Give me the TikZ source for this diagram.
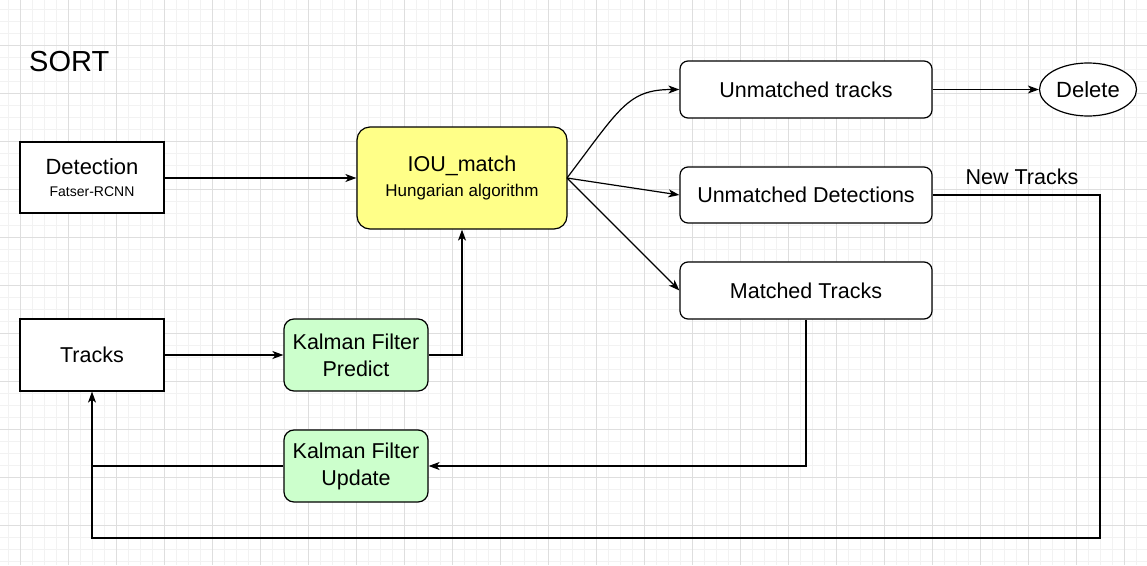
\documentclass[tikz,border=0pt]{standalone}
\usepackage{fontspec}
\setmainfont{Liberation Sans}
\usetikzlibrary{arrows.meta,shapes.geometric}
\definecolor{gridminor}{HTML}{F2F2F2}
\definecolor{gridmajor}{HTML}{DEDEDE}
\definecolor{iouyellow}{HTML}{FFFF88}
\definecolor{kfgreen}{HTML}{CCFFCC}
\tikzset{
  box/.style={draw=black, line width=1.2pt, fill=white, minimum width=144pt, minimum height=71pt, inner sep=0pt, align=center, font=\fontsize{21.5}{27}\selectfont},
  rbox/.style={box, rounded corners=8pt, minimum width=252pt, minimum height=57pt},
  kfbox/.style={box, fill=kfgreen, rounded corners=10pt, minimum height=72pt},
  ioubox/.style={box, fill=iouyellow, rounded corners=13pt, minimum width=210pt, minimum height=102pt},
  conn/.style={line width=1.2pt, -{Stealth[length=11pt,width=8pt,inset=3pt]}},
  line/.style={line width=1.2pt},
  lbl/.style={inner sep=0pt, font=\fontsize{21.5}{24}\selectfont}
}
\begin{document}
\begin{tikzpicture}[x=1pt,y=-1pt]
\useasboundingbox (0,0) rectangle (1147,565);
\fill[white] (0,0) rectangle (1147,565);
% grid
\foreach \x in {8,20,...,1147} \draw[gridminor, line width=0.8pt] (\x,0) -- (\x,565);
\foreach \y in {9,21,...,565} \draw[gridminor, line width=0.8pt] (0,\y) -- (1147,\y);
\foreach \x in {20,68,...,1147} \draw[gridmajor, line width=0.9pt] (\x,0) -- (\x,565);
\foreach \y in {45,93,...,565} \draw[gridmajor, line width=0.9pt] (0,\y) -- (1147,\y);

% title
\node[anchor=west, inner sep=0pt, font=\fontsize{29}{32}\selectfont] (title) at (29,62) {SORT};

% nodes
\node[box] (det) at (92,177.5) {{\fontsize{22}{26}\selectfont Detection}\\[-5pt]{\fontsize{14}{16}\selectfont Fatser-RCNN}};
\node[box, minimum height=72pt] (tracks) at (92,355) {Tracks};
\node[ioubox] (iou) at (462,178) {IOU\_match\\[-2pt]{\fontsize{17}{20}\selectfont Hungarian algorithm}};
\node[kfbox] (kfp) at (356,355) {Kalman Filter\\Predict};
\node[kfbox] (kfu) at (356,466) {Kalman Filter\\Update};
\node[rbox] (ut) at (806,89.5) {Unmatched tracks};
\node[rbox, minimum height=56pt] (ud) at (806,195) {Unmatched Detections};
\node[rbox] (mt) at (806,290.5) {Matched Tracks};
\node[draw=black, line width=1.2pt, fill=white, ellipse, minimum width=97pt, minimum height=53pt, inner sep=0pt, font=\fontsize{22}{24}\selectfont] (del) at (1088,89.5) {Delete};

\coordinate (iouR) at (567,178);
\coordinate (kink) at (462,355);
\coordinate (ne) at (1100,195);
\coordinate (se) at (1100,538);
\coordinate (sw) at (92,538);
\coordinate (mtdown) at (806,466);

% connectors
\draw[conn] (det.east |- 0,178) -- (iou.west |- 0,178);
\draw[conn] (tracks.east) -- (kfp.west);
\draw[conn] (kfp.east) -- (kink) -- (iou.south);
\draw[conn] (iouR) .. controls (620,108) and (628,89.5) .. (ut.west);
\draw[conn] (iouR) -- (ud.west);
\draw[conn] (iouR) -- (mt.west);
\draw[conn] (ut.east) -- (del.west);
\draw[conn] (ud.east) -- (ne) -- (se) -- (sw) -- (tracks.south);
\draw[conn] (mt.south) -- (mtdown) -- (kfu.east);
\draw[line] (kfu.west) -- (kfu.west -| tracks.south);

\node[lbl] (newtr) at (1022,177) {New Tracks};
\end{tikzpicture}
\end{document}
